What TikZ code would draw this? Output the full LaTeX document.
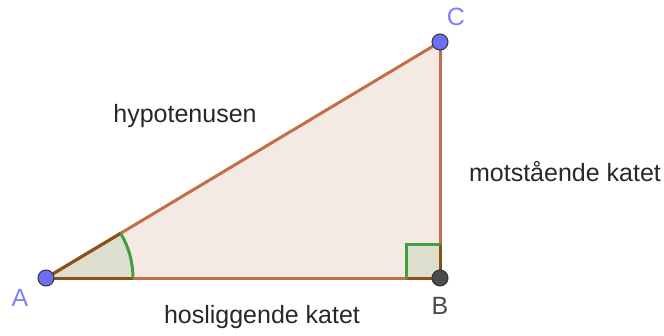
\documentclass[tikz,border=0pt]{standalone}
\usepackage{fontspec}
\setmainfont{Liberation Sans}
\usetikzlibrary{calc}
\definecolor{edgec}{RGB}{196,110,72}
\definecolor{triFill}{RGB}{245,233,228}
\definecolor{angFill}{RGB}{221,222,206}
\definecolor{angEdge}{RGB}{140,80,25}
\definecolor{angGreen}{RGB}{64,160,64}
\definecolor{ptBlue}{RGB}{110,110,245}
\definecolor{lblBlue}{RGB}{128,128,255}
\definecolor{ptGrey}{RGB}{75,75,75}
\definecolor{txtc}{RGB}{40,40,40}
\tikzset{
  edge/.style={draw=edgec, line width=3pt},
  pt/.style={circle, draw=black!80, line width=1pt, inner sep=0pt, minimum size=16pt},
  lbl/.style={font=\fontsize{25}{28}\selectfont, text=txtc, anchor=base, inner sep=0pt},
  ptlbl/.style={font=\fontsize{25}{28}\selectfont, anchor=base, inner sep=0pt}
}
\begin{document}
\begin{tikzpicture}[x=1pt,y=1pt]
\useasboundingbox (0,0) rectangle (664,335);
\coordinate (A) at (46,57);
\coordinate (B) at (440,57);
\coordinate (C) at (440,293);
% triangle fill
\fill[triFill] (A) -- (B) -- (C) -- cycle;
% angle at A
\fill[angFill] (A) -- ($(A)+(87pt,0)$) arc[start angle=0, end angle=30.93, radius=87pt] -- cycle;
% right angle at B
\fill[angFill] (B) rectangle ($(B)+(-34pt,34pt)$);
% edges
\draw[edge] (A) -- (B);
\draw[edge] (B) -- (C);
\draw[edge] (C) -- (A);
% darker edge segments inside the angle marks
\draw[angEdge, line width=3pt] (A) -- ($(A)+(87pt,0)$);
\draw[angEdge, line width=3pt] (A) -- ($(A)!87pt!(C)$);
\draw[angEdge, line width=3pt] ($(B)+(-34pt,0)$) -- (B) -- ($(B)+(0,34pt)$);
% angle marks
\draw[angGreen, line width=3pt] ($(A)+(87pt,0)$) arc[start angle=0, end angle=30.93, radius=87pt];
\draw[angGreen, line width=3pt, line cap=round] ($(B)+(-34pt,0)$) -- ($(B)+(-34pt,34pt)$) -- ($(B)+(0,34pt)$);
% points
\node[pt, fill=ptBlue] (pA) at (A) {};
\node[pt, fill=ptGrey] (pB) at (B) {};
\node[pt, fill=ptBlue] (pC) at (C) {};
% point labels
\node[ptlbl, text=lblBlue] (lA) at (20,29) {A};
\node[ptlbl, text=ptGrey] (lB) at (440,21) {B};
\node[ptlbl, text=lblBlue] (lC) at (456,309) {C};
% side labels
\node[lbl] (hyp) at (185,212) {hypotenusen};
\node[lbl] (mot) at (565,153) {motstående katet};
\node[lbl] (hos) at (262,12) {hosliggende katet};
\end{tikzpicture}
\end{document}
